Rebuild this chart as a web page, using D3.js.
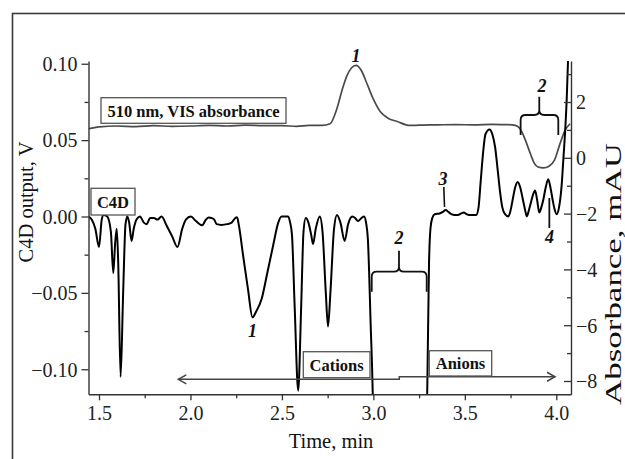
<!DOCTYPE html>
<html><head><meta charset="utf-8">
<script src="https://cdn.jsdelivr.net/npm/d3@7"></script>
<style>
html,body{margin:0;padding:0;background:#fff;}
svg{display:block;font-family:"Liberation Serif","Times New Roman",serif;}
</style></head>
<body><svg id="chart" width="625" height="459"></svg>
<script>
// ---- data ----
// C4D trace: time (min) and output (V)
const c4dTime = [1.443,1.46,1.48,1.50,1.515,1.525,1.545,1.565,1.578,1.588,1.597,1.605,1.618,1.632,1.645,1.655,1.665,1.678,1.69,1.705,1.724,1.745,1.76,1.78,1.80,1.82,1.842,1.87,1.90,1.929,1.955,1.975,2.002,2.03,2.064,2.085,2.10,2.115,2.13,2.143,2.17,2.20,2.225,2.245,2.255,2.265,2.288,2.315,2.339,2.36,2.389,2.42,2.452,2.48,2.498,2.52,2.534,2.545,2.555,2.57,2.589,2.605,2.618,2.63,2.645,2.66,2.67,2.685,2.707,2.722,2.74,2.752,2.765,2.785,2.801,2.82,2.843,2.862,2.885,2.90,2.916,2.935,2.949,2.96,2.97,2.985,2.998,3.0,3.29,3.295,3.304,3.312,3.322,3.335,3.362,3.38,3.395,3.41,3.426,3.445,3.462,3.48,3.495,3.51,3.522,3.545,3.562,3.575,3.586,3.60,3.613,3.635,3.65,3.666,3.68,3.693,3.705,3.72,3.738,3.75,3.762,3.775,3.789,3.803,3.817,3.83,3.839,3.85,3.861,3.872,3.884,3.895,3.907,3.918,3.929,3.942,3.956,3.968,3.98,3.99,4.002,4.015,4.029,4.04,4.048,4.057,4.065,4.075];
const c4dValue = [0.000,-0.002,-0.008,-0.020,-0.002,0.001,0.000,-0.010,-0.037,-0.018,-0.008,-0.030,-0.105,-0.050,-0.005,0.000,-0.004,-0.016,-0.008,-0.002,0.000,-0.004,-0.005,-0.001,-0.001,-0.002,0.000,-0.006,-0.013,-0.020,-0.008,-0.002,0.000,-0.003,-0.0057,-0.002,-0.0007,-0.001,-0.002,-0.005,-0.0055,-0.005,-0.004,-0.001,-0.0005,-0.006,-0.0257,-0.048,-0.066,-0.062,-0.054,-0.037,-0.019,-0.004,0.000,0.000,0.000,-0.004,-0.012,-0.060,-0.114,-0.060,-0.010,-0.001,-0.004,-0.012,-0.018,-0.008,0.000,-0.010,-0.050,-0.072,-0.050,-0.008,0.001,-0.004,-0.016,-0.005,0.000,-0.001,-0.003,-0.001,0.000,-0.004,-0.015,-0.070,-0.125,-0.140,-0.140,-0.110,-0.032,-0.008,-0.001,0.0015,0.002,0.003,0.0043,0.003,0.0015,0.001,0.001,0.002,0.0026,0.0015,0.001,0.001,0.001,0.006,0.022,0.042,0.054,0.057,0.054,0.045,0.030,0.0157,0.006,0.0015,0.000,0.004,0.0113,0.019,0.0226,0.019,0.0113,0.004,0.000,0.004,0.009,0.014,0.017,0.011,0.0026,0.006,0.011,0.019,0.0244,0.019,0.011,0.005,0.0015,0.006,0.020,0.040,0.055,0.077,0.105,0.130];
// VIS absorbance trace (510 nm): time (min) and absorbance (mAU)
const visTime = [1.443,1.50,1.60,1.70,1.80,1.90,2.00,2.10,2.20,2.30,2.40,2.50,2.58,2.65,2.72,2.763,2.799,2.83,2.854,2.88,2.905,2.935,2.963,3.00,3.036,3.08,3.127,3.20,3.25,3.35,3.45,3.55,3.65,3.72,3.76,3.79,3.81,3.83,3.86,3.88,3.90,3.93,3.96,3.99,4.02,4.045,4.075];
const visValue = [1.04,1.11,1.14,1.12,1.15,1.13,1.14,1.16,1.14,1.17,1.15,1.15,1.13,1.16,1.16,1.22,1.73,2.45,2.92,3.22,3.31,3.12,2.69,2.10,1.67,1.42,1.31,1.16,1.17,1.18,1.19,1.18,1.20,1.19,1.18,1.12,0.95,0.65,0.12,-0.20,-0.33,-0.36,-0.30,-0.08,0.50,0.95,1.22];
// axis ticks
const timeTicks = [1.5,2.0,2.5,3.0,3.5,4.0];
const timeMinor = [1.75,2.25,2.75,3.25,3.75];
const c4dTicks = [-0.10,-0.05,0.00,0.05,0.10];
const c4dMinor = [-0.075,-0.025,0.025,0.075];
const absTicks = [-8,-6,-4,-2,0,2];
const absMinor = [-7,-5,-3,-1,1,3];

// ---- layout ----
const svg = d3.select('#chart');
const L = 88.5, R = 571, T = 61, B = 394.3;
const xS = d3.scaleLinear([1.4426, 4.0804], [L, R]);
const yL = d3.scaleLinear([-0.1164, 0.1018], [B, T]);
const yR = d3.scaleLinear([-8.477, 3.47], [B, T]);
const axisCol = '#333';

// outer frame
svg.append('rect').attr('x',12.5).attr('y',13.5).attr('width',700).attr('height',500)
  .attr('fill','none').attr('stroke','#3a3a3a').attr('stroke-width',1.6);

// clip
svg.append('clipPath').attr('id','plot').append('rect')
  .attr('x',L).attr('y',T).attr('width',R-L).attr('height',B-T);

// traces
const visData = visTime.map((t,i)=>[t,visValue[i]]);
const c4dData = c4dTime.map((t,i)=>[t,c4dValue[i]]);
const plot = svg.append('g').attr('clip-path','url(#plot)');
plot.append('path').datum(visData)
  .attr('d', d3.line().x(d=>xS(d[0])).y(d=>yR(d[1])).curve(d3.curveMonotoneX))
  .attr('fill','none').attr('stroke','#4a4a4a').attr('stroke-width',1.7);
plot.append('path').datum(c4dData)
  .attr('d', d3.line().x(d=>xS(d[0])).y(d=>yL(d[1])).curve(d3.curveMonotoneX))
  .attr('fill','none').attr('stroke','#000').attr('stroke-width',2);

// axes
function styleAxis(g){
  g.select('.domain').attr('stroke',axisCol).attr('stroke-width',1.4);
  g.selectAll('line').attr('stroke',axisCol).attr('stroke-width',1.3);
  g.selectAll('text').attr('fill','#222').style('font-size','20px')
    .style('font-family','"Liberation Serif","Times New Roman",serif');
}
const gx = svg.append('g').attr('transform',`translate(0,${B})`)
  .call(d3.axisBottom(xS).tickValues(timeTicks).tickSize(6).tickSizeOuter(0).tickFormat(d3.format('.1f')));
gx.selectAll('text').attr('y',26).attr('dy',null);
styleAxis(gx);
const gxm = svg.append('g').attr('transform',`translate(0,${B})`)
  .call(d3.axisBottom(xS).tickValues(timeMinor).tickSize(4).tickSizeOuter(0).tickFormat(''));
gxm.select('.domain').remove(); styleAxis(gxm);

const gl = svg.append('g').attr('transform',`translate(${L},0)`)
  .call(d3.axisLeft(yL).tickValues(c4dTicks).tickSize(7).tickSizeOuter(0).tickFormat(d3.format('.2f')));
gl.selectAll('text').attr('x',-11).attr('dy','0.34em');
styleAxis(gl);
const glm = svg.append('g').attr('transform',`translate(${L},0)`)
  .call(d3.axisLeft(yL).tickValues(c4dMinor).tickSize(4).tickSizeOuter(0).tickFormat(''));
glm.select('.domain').remove(); styleAxis(glm);

const gr = svg.append('g').attr('transform',`translate(${R},0)`)
  .call(d3.axisRight(yR).tickValues(absTicks).tickSizeInner(-7).tickSizeOuter(0).tickFormat(d3.format('d')));
gr.selectAll('text').attr('x',5).attr('dy','0.34em');
styleAxis(gr);
const grm = svg.append('g').attr('transform',`translate(${R},0)`)
  .call(d3.axisRight(yR).tickValues(absMinor).tickSizeInner(-4).tickSizeOuter(0).tickFormat(''));
grm.select('.domain').remove(); styleAxis(grm);

// axis titles
svg.append('text').attr('x',331).attr('y',448).attr('text-anchor','middle')
  .style('font-size','20.5px').attr('fill','#111').text('Time, min');
svg.append('text').attr('transform','translate(33,202) rotate(-90)').attr('text-anchor','middle')
  .style('font-size','20.5px').attr('fill','#111').text('C4D output, V');
svg.append('text').attr('transform','translate(621,274) rotate(-90)').attr('text-anchor','middle')
  .attr('textLength',262).attr('lengthAdjust','spacingAndGlyphs')
  .style('font-size','23px').attr('fill','#111').text('Absorbance, mAU');

// boxed labels
function box(x0,y0,x1,y1,label,by){
  svg.append('rect').attr('x',x0).attr('y',y0).attr('width',x1-x0).attr('height',y1-y0)
    .attr('fill','#fff').attr('stroke','#555').attr('stroke-width',1.3);
  svg.append('text').attr('x',(x0+x1)/2).attr('y',by).attr('text-anchor','middle')
    .style('font-size','16.5px').style('font-weight','bold').attr('fill','#111').text(label);
}
box(101,97.7,286,123.3,'510 nm, VIS absorbance',116.7);
box(91,188.3,135,215,'C4D',208.3);

// region arrows (Cations / Anions)
const arrowCol = '#444';
const ag = svg.append('g').attr('stroke',arrowCol).attr('stroke-width',1.5).attr('fill','none');
ag.append('path').attr('d',
  `M${xS(1.9335)},${yL(-0.1066)} L${xS(3.1417)},${yL(-0.1066)} L${xS(3.1417)},${yL(-0.1049)} L${xS(3.993)},${yL(-0.1049)}`);
ag.append('path').attr('d',`M${xS(1.9335)+8},${yL(-0.1066)-4.5} L${xS(1.9335)},${yL(-0.1066)} L${xS(1.9335)+8},${yL(-0.1066)+4.5}`);
ag.append('path').attr('d',`M${xS(3.993)-8},${yL(-0.1049)-4.5} L${xS(3.993)},${yL(-0.1049)} L${xS(3.993)-8},${yL(-0.1049)+4.5}`);
box(303.3,351.7,370,377.7,'Cations',371);
box(429.3,350.7,491.7,376,'Anions',369);

// braces
function brace(x1,x2,xm,yh,yb,ytip,col){
  const r=5;
  const d = `M${x1},${yb} L${x1},${yh+r} Q${x1},${yh} ${x1+r},${yh} L${xm-r},${yh} Q${xm},${yh} ${xm},${yh-r} L${xm},${ytip}`+
            ` M${xm},${yh-r} Q${xm},${yh} ${xm+r},${yh} L${x2-r},${yh} Q${x2},${yh} ${x2},${yh+r} L${x2},${yb}`;
  svg.append('path').attr('d',d).attr('fill','none').attr('stroke',col).attr('stroke-width',1.8);
}
brace(xS(2.991),xS(3.2915),xS(3.140),yL(-0.0361),yL(-0.0492),yL(-0.0224),'#111');
brace(xS(3.805),xS(4.011),xS(3.907),yR(1.534),yR(0.818),yR(2.19),'#111');

// peak numbers
function num(x,y,s){
  svg.append('text').attr('x',x).attr('y',y).attr('text-anchor','middle')
    .style('font-size','18px').style('font-weight','bold').style('font-style','italic')
    .attr('fill','#111').text(s);
}
num(xS(2.905),yR(3.45),'1');
num(xS(2.339),yL(-0.0789),'1');
num(xS(3.140),yL(-0.018),'2');
num(xS(3.922),yR(2.359),'2');
num(xS(3.381),yL(0.0206),'3');
num(xS(3.963),yL(-0.0174),'4');
svg.append('line').attr('x1',xS(3.385)).attr('x2',xS(3.389)).attr('y1',yL(0.0193)).attr('y2',yL(0.0062))
  .attr('stroke','#111').attr('stroke-width',1.6);
svg.append('line').attr('x1',xS(3.962)).attr('x2',xS(3.962)).attr('y1',yL(0.0121)).attr('y2',yL(-0.0075))
  .attr('stroke','#111').attr('stroke-width',1.8);
</script></body></html>
